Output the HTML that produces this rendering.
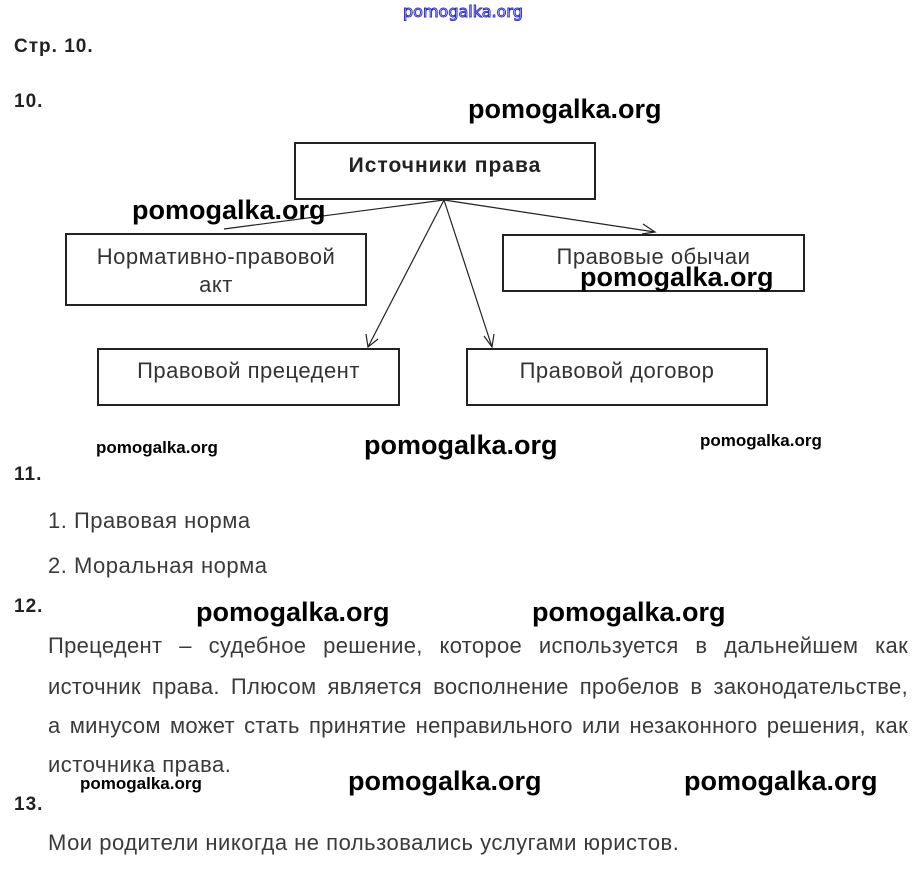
<!DOCTYPE html>
<html><head><meta charset="utf-8"><style>
body{margin:0;width:920px;height:869px;background:#fff;position:relative;overflow:hidden;font-family:"Liberation Sans",sans-serif;color:#333}
.a{position:absolute;white-space:nowrap}
.h{font-weight:bold;font-size:19px;color:#222;letter-spacing:1px}
.t{font-size:22px;letter-spacing:0.5px;color:#3a3a3a}
.w{font-weight:bold;font-size:27px;color:#000;font-family:"Liberation Sans",sans-serif}
.ws{font-weight:bold;font-size:17px;color:#000;font-family:"Liberation Sans",sans-serif}
.j{position:absolute;left:48px;width:860px;font-size:22px;letter-spacing:0.3px;color:#3a3a3a;text-align:justify;text-align-last:justify;white-space:nowrap}
.b{position:absolute;border:2px solid #222;box-sizing:border-box;text-align:center;font-size:22px;letter-spacing:0.5px;color:#333}
</style></head><body>
<div class="a" style="left:403px;top:2px;font-size:16px;color:#fff;-webkit-text-stroke:1px #3030c0;font-family:'DejaVu Sans',sans-serif">pomogalka.org</div>
<div class="a h" style="left:14px;top:36px">Стр. 10.</div>
<div class="a h" style="left:14px;top:91px">10.</div>
<div class="a h" style="left:14px;top:464px">11.</div>
<div class="a h" style="left:14px;top:596px">12.</div>
<div class="a h" style="left:14px;top:794px">13.</div>

<svg class="a" style="left:0;top:0" width="920" height="869">
<g stroke="#222" stroke-width="1.2" fill="none">
<line x1="444" y1="200" x2="224" y2="229"/><line x1="444" y1="200" x2="655" y2="232"/>
<line x1="444" y1="200" x2="368" y2="347"/><line x1="444" y1="200" x2="492" y2="347"/>
<polyline points="366,334 368,347 378,339"/><polyline points="484,336 492,347 494,334"/>
<polyline points="643,224 655,232 642,234"/>
</g></svg>

<div class="b" style="left:294px;top:142px;width:302px;height:58px;line-height:44px;font-weight:bold;font-size:21px;letter-spacing:1px;color:#222">Источники права</div>
<div class="b" style="left:65px;top:233px;width:302px;height:73px;padding-top:8px;line-height:28px">Нормативно-правовой<br>акт</div>
<div class="b" style="left:502px;top:234px;width:303px;height:58px;padding-top:8px;line-height:26px">Правовые обычаи</div>
<div class="b" style="left:97px;top:348px;width:303px;height:58px;padding-top:8px;line-height:26px">Правовой прецедент</div>
<div class="b" style="left:466px;top:348px;width:302px;height:58px;padding-top:8px;line-height:26px">Правовой договор</div>

<div class="a w" style="left:468px;top:94px">pomogalka.org</div>
<div class="a w" style="left:132px;top:195px">pomogalka.org</div>
<div class="a w" style="left:580px;top:262px">pomogalka.org</div>
<div class="a w" style="left:364px;top:430px">pomogalka.org</div>
<div class="a ws" style="left:96px;top:438px">pomogalka.org</div>
<div class="a ws" style="left:700px;top:431px">pomogalka.org</div>
<div class="a w" style="left:196px;top:597px">pomogalka.org</div>
<div class="a w" style="left:532px;top:597px">pomogalka.org</div>
<div class="a w" style="left:348px;top:766px">pomogalka.org</div>
<div class="a w" style="left:684px;top:766px">pomogalka.org</div>
<div class="a ws" style="left:80px;top:774px">pomogalka.org</div>

<div class="a t" style="left:48px;top:508px">1. Правовая норма</div>
<div class="a t" style="left:48px;top:553px">2. Моральная норма</div>
<div class="j" style="top:633px">Прецедент – судебное решение, которое используется в дальнейшем как</div>
<div class="j" style="top:674px">источник права. Плюсом является восполнение пробелов в законодательстве,</div>
<div class="j" style="top:713px">а минусом может стать принятие неправильного или незаконного решения, как</div>
<div class="a t" style="left:48px;top:752px">источника права.</div>
<div class="a t" style="left:48px;top:830px">Мои родители никогда не пользовались услугами юристов.</div>
</body></html>
